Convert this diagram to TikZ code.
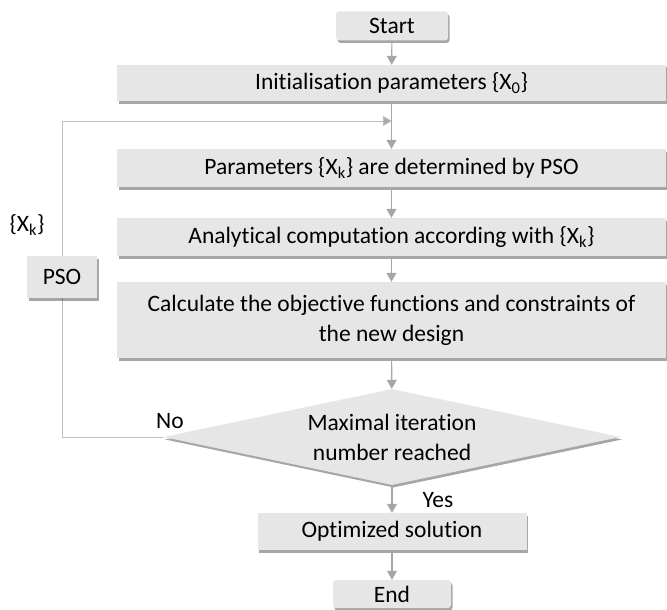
\documentclass[tikz,border=0pt]{standalone}
\usepackage{fontspec}
\setmainfont{Carlito}[Ligatures=NoCommon]
\usetikzlibrary{arrows.meta,shapes.geometric,shadows}
\definecolor{boxfill}{HTML}{E6E6E6}
\definecolor{arrowgray}{HTML}{A6A6A6}
\definecolor{loopgray}{HTML}{C0C0C0}
\tikzset{
  procbox/.style={draw=none, fill=boxfill, inner sep=0pt, align=center,
    font=\fontsize{23.5}{30}\selectfont,
    drop shadow={shadow xshift=1.5pt, shadow yshift=-2.5pt, fill=black, opacity=0.35}},
  termbox/.style={procbox, rounded corners=3pt},
  decbox/.style={procbox, diamond, shape aspect=4.76},
  flow/.style={draw=arrowgray, line width=1.1pt, -{Triangle[width=10pt,length=9pt]}},
  loopline/.style={draw=loopgray, line width=1pt},
  loopflow/.style={draw=loopgray, line width=1pt, -{Triangle[width=10pt,length=9pt,fill=arrowgray]}},
  lbl/.style={inner sep=0pt, font=\fontsize{23.5}{30}\selectfont}
}
\begin{document}
\begin{tikzpicture}[x=1pt,y=-1pt]
\useasboundingbox (0,0) rectangle (667,610);
\coordinate (loopA) at (62,437);
\coordinate (loopB) at (62,121);
\coordinate (loopC) at (392,121);

\node[termbox, minimum width=112pt, minimum height=29pt] (start) at (392,26) {Start};
\node[procbox, minimum width=549pt, minimum height=36pt] (init) at (391.5,83) {Initialisation parameters \{X\textsubscript{0}\}};
\node[procbox, minimum width=549pt, minimum height=38pt] (params) at (391.5,168) {Parameters \{X\textsubscript{k}\} are determined by PSO};
\node[procbox, minimum width=549pt, minimum height=38pt] (anal) at (391.5,237) {Analytical computation according with \{X\textsubscript{k}\}};
\node[procbox, minimum width=549pt, minimum height=76pt] (calc) at (391.5,320) {Calculate the objective functions and constraints of\\the new design};
\node[decbox, minimum width=457pt, minimum height=96pt] (dec) at (392,437) {Maximal iteration\\number reached};
\node[procbox, minimum width=269pt, minimum height=37pt] (opt) at (392,531.5) {Optimized solution};
\node[termbox, minimum width=118pt, minimum height=28pt] (end) at (392,594) {End};

\draw[loopline] (dec.west) -- (loopA) -- (loopB);
\draw[loopflow] (loopB) -- (loopC);
\node[procbox, minimum width=70pt, minimum height=42pt] (pso) at (62,277) {PSO};

\node[lbl] (xk) at (27,225) {\{X\textsubscript{k}\}};
\node[lbl] (no) at (170,421) {No};
\node[lbl] (yes) at (438,500) {Yes};

\draw[flow] (start) -- (init);
\draw[flow] (init) -- (params);
\draw[flow] (params) -- (anal);
\draw[flow] (anal) -- (calc);
\draw[flow] (calc) -- (dec);
\draw[flow] (dec) -- (opt);
\draw[flow] (opt) -- (end);
\end{tikzpicture}
\end{document}
